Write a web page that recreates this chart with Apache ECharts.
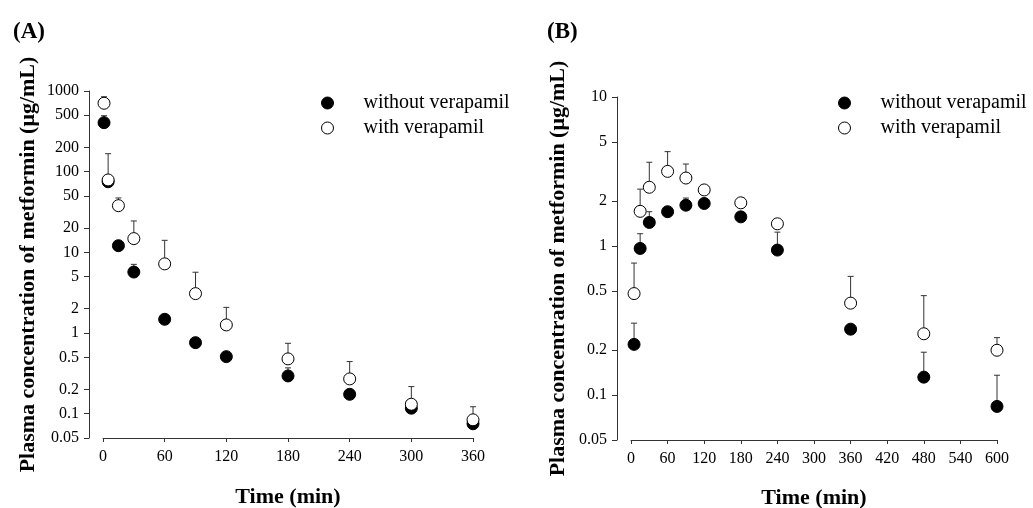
<!DOCTYPE html>
<html>
<head>
<meta charset="utf-8">
<script src="https://cdn.jsdelivr.net/npm/echarts@6.0.0/dist/echarts.min.js"></script>
<style>
html, body { margin: 0; padding: 0; background: #fff; }
#chart { width: 1033px; height: 508px; }
</style>
</head>
<body>
<div id="chart"></div>
<script>
// panel A - sampling times (min) and concentrations (ug/mL)
var timeA = [1, 5, 15, 30, 60, 90, 120, 180, 240, 300, 360]
var withoutA = [405, 75, 12.1, 5.7, 1.48, 0.76, 0.51, 0.294, 0.174, 0.117, 0.075]
var withoutTopA = [494, 75, 12.1, 7.1, 1.48, 0.76, 0.51, 0.37, 0.174, 0.117, 0.075]
var withA = [705, 79, 37.9, 14.8, 7.2, 3.08, 1.26, 0.478, 0.27, 0.131, 0.084]
var withTopA = [849, 167, 47.2, 24.5, 14.1, 5.67, 2.08, 0.746, 0.443, 0.217, 0.122]

// panel B
var timeB = [5, 15, 30, 60, 90, 120, 180, 240, 360, 480, 600]
var withoutB = [0.219, 0.964, 1.44, 1.70, 1.88, 1.93, 1.57, 0.94, 0.277, 0.132, 0.084]
var withoutTopB = [0.304, 1.21, 1.70, 1.70, 2.10, 2.05, 1.66, 1.24, 0.277, 0.194, 0.136]
var withB = [0.48, 1.71, 2.48, 3.17, 2.86, 2.38, 1.95, 1.41, 0.414, 0.258, 0.20]
var withTopB = [0.769, 2.41, 3.65, 4.30, 3.55, 2.38, 1.95, 1.41, 0.626, 0.465, 0.243]

var ticksA = [0.05, 0.1, 0.2, 0.5, 1, 2, 5, 10, 20, 50, 100, 200, 500, 1000]
var ticksB = [0.05, 0.1, 0.2, 0.5, 1, 2, 5, 10]

var serif = '"Liberation Serif", "Times New Roman", serif'
var axisColor = '#333'

function lg(v) { return Math.log10(v) }

function tickLabel(ticks) {
    return function (v) {
        for (var i = 0; i < ticks.length; i++) {
            if (Math.abs(lg(ticks[i]) - v) < 1e-6) return String(ticks[i])
        }
        return ''
    }
}

function yAxisFor(ticks, idx, gap) {
    var vals = ticks.map(lg)
    return {
        type: 'value', gridIndex: idx,
        min: lg(ticks[0]), max: lg(ticks[ticks.length - 1]),
        offset: 14,
        name: 'Plasma concentration of metformin (\u03bcg/mL)',
        nameLocation: 'middle', nameGap: gap,
        nameTextStyle: { fontFamily: serif, fontWeight: 'bold', fontSize: 22, color: '#000' },
        splitLine: { show: false },
        axisLine: { show: true, onZero: false, lineStyle: { color: axisColor, width: 1 } },
        axisTick: { show: true, length: 5, customValues: vals, lineStyle: { color: axisColor } },
        axisLabel: { customValues: vals, formatter: tickLabel(ticks), margin: 10,
            fontFamily: serif, fontSize: 16, color: '#000' }
    }
}

function xAxisFor(max, idx, gap) {
    return {
        type: 'value', gridIndex: idx, min: 0, max: max, interval: 60,
        name: 'Time (min)', nameLocation: 'middle', nameGap: gap,
        nameTextStyle: { fontFamily: serif, fontWeight: 'bold', fontSize: 22, color: '#000' },
        splitLine: { show: false },
        axisLine: { show: true, onZero: false, lineStyle: { color: axisColor, width: 1 } },
        axisTick: { show: true, length: 4, lineStyle: { color: axisColor } },
        axisLabel: { margin: 11, fontFamily: serif, fontSize: 16, color: '#000' }
    }
}

function points(times, vals) {
    return times.map(function (t, i) { return [t, lg(vals[i])] })
}

function errorBars(times, vals, tops, idx) {
    return {
        type: 'custom', xAxisIndex: idx, yAxisIndex: idx, z: 1,
        data: times.map(function (t, i) { return [t, lg(vals[i]), lg(tops[i])] }),
        renderItem: function (params, api) {
            var lo = api.coord([api.value(0), api.value(1)])
            var hi = api.coord([api.value(0), api.value(2)])
            var st = { stroke: '#333', lineWidth: 1 }
            return {
                type: 'group',
                children: [
                    { type: 'line', shape: { x1: lo[0], y1: lo[1], x2: hi[0], y2: hi[1] }, style: st },
                    { type: 'line', shape: { x1: hi[0] - 3, y1: hi[1], x2: hi[0] + 3, y2: hi[1] }, style: st }
                ]
            }
        }
    }
}

function filled(times, vals, idx) {
    return {
        name: 'without verapamil', type: 'scatter', xAxisIndex: idx, yAxisIndex: idx, z: 2,
        symbol: 'circle', symbolSize: 12, clip: false,
        itemStyle: { color: '#000', borderColor: '#000', borderWidth: 1, opacity: 1 },
        data: points(times, vals)
    }
}

function open(times, vals, idx) {
    return {
        name: 'with verapamil', type: 'scatter', xAxisIndex: idx, yAxisIndex: idx, z: 3,
        symbol: 'circle', symbolSize: 12, clip: false,
        itemStyle: { color: '#fff', borderColor: '#000', borderWidth: 1, opacity: 1 },
        data: points(times, vals)
    }
}

function legendAt(left) {
    return {
        orient: 'vertical', left: left, top: 93, padding: 0,
        itemWidth: 12, itemHeight: 12, itemGap: 5,
        selectedMode: false,
        textStyle: { fontFamily: serif, fontSize: 20, lineHeight: 20, color: '#000', padding: [0, 0, 0, 25] },
        data: [
            { name: 'without verapamil', icon: 'circle', itemStyle: { color: '#000', borderColor: '#000', borderWidth: 1 } },
            { name: 'with verapamil', icon: 'circle', itemStyle: { color: '#fff', borderColor: '#000', borderWidth: 1 } }
        ]
    }
}

var chart = echarts.init(document.getElementById('chart'))

var option = {
    backgroundColor: '#fff',
    animation: false,
    title: [
        { text: '(A)', left: 8, top: 16, textStyle: { fontFamily: serif, fontWeight: 'bold', fontSize: 23, color: '#000' } },
        { text: '(B)', left: 542, top: 16, textStyle: { fontFamily: serif, fontWeight: 'bold', fontSize: 23, color: '#000' } }
    ],
    legend: [legendAt(321), legendAt(838)],
    grid: [
        { left: 103, top: 91, width: 370, height: 347, containLabel: false, outerBoundsMode: 'none' },
        { left: 631, top: 97, width: 366, height: 343, containLabel: false, outerBoundsMode: 'none' }
    ],
    xAxis: [xAxisFor(360, 0, 48), xAxisFor(600, 1, 47)],
    yAxis: [yAxisFor(ticksA, 0, 50), yAxisFor(ticksB, 1, 48)],
    series: [
        errorBars(timeA, withoutA, withoutTopA, 0),
        errorBars(timeA, withA, withTopA, 0),
        filled(timeA, withoutA, 0),
        open(timeA, withA, 0),
        errorBars(timeB, withoutB, withoutTopB, 1),
        errorBars(timeB, withB, withTopB, 1),
        filled(timeB, withoutB, 1),
        open(timeB, withB, 1)
    ]
}

chart.setOption(option)
</script>
</body>
</html>
